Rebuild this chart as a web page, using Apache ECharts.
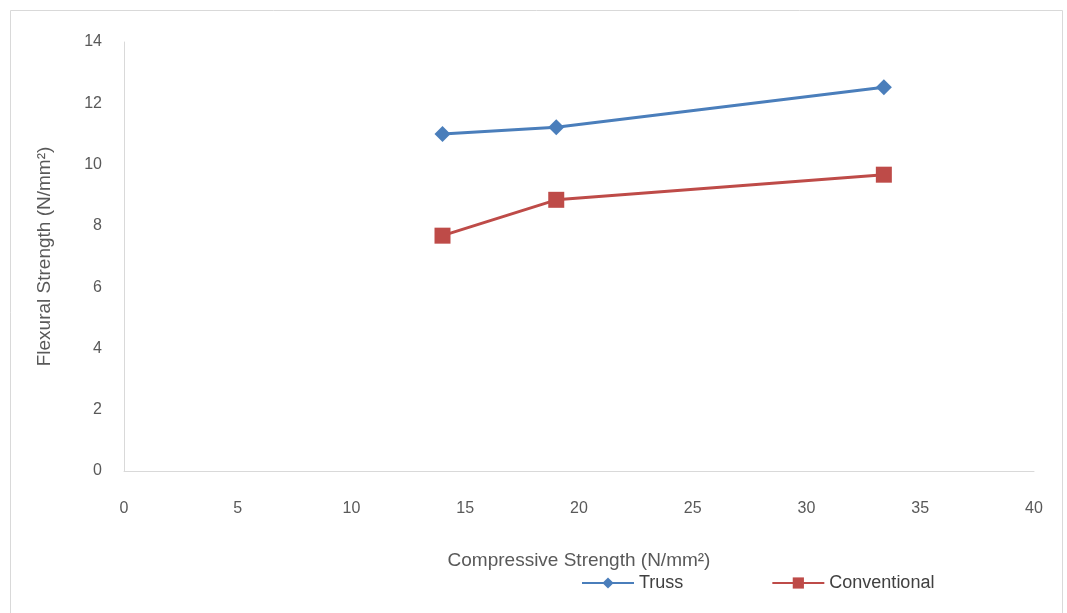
<!DOCTYPE html>
<html><head><meta charset="utf-8">
<script src="https://cdn.jsdelivr.net/npm/echarts@6/dist/echarts.min.js"></script>
<style>html,body{margin:0;padding:0;background:#fff}#c{width:1067px;height:613px}</style>
</head><body><div id="c"></div>
<script>
var seriesNames = ['Truss', 'Conventional'];
var compressive = [14, 19, 33.4];
var trussFlexural = [11.0, 11.22, 12.52];
var conventionalFlexural = [7.68, 8.85, 9.67];
var xTicks = [0, 5, 10, 15, 20, 25, 30, 35, 40];
var yTicks = [0, 2, 4, 6, 8, 10, 12, 14];

function pairs(xs, ys){ return xs.map(function(x,i){ return [x, ys[i]]; }); }
var font = 'Liberation Sans, Arial, sans-serif';
var chart = echarts.init(document.getElementById('c'));
chart.setOption({
  animation: false,
  backgroundColor: '#fff',
  graphic: [{type:'rect', shape:{x:10.5,y:10.5,width:1052,height:610}, style:{fill:'none', stroke:'#d9d9d9', lineWidth:1}}],
  grid: {left:124, right:33, top:42, bottom:142},
  legend: {
    left: 576, top: 569, itemWidth: 52, itemHeight: 14, itemGap: 88,
    textStyle: {color:'#404040', fontSize:18, fontFamily:font},
    data: seriesNames
  },
  xAxis: {
    type:'value', min:xTicks[0], max:xTicks[xTicks.length-1], interval:5,
    name:'Compressive Strength (N/mm²)', nameLocation:'middle', nameGap:80,
    nameTextStyle:{color:'#595959', fontSize:19, fontFamily:font},
    axisLine:{lineStyle:{color:'#d9d9d9'}}, axisTick:{show:false}, splitLine:{show:false},
    axisLabel:{color:'#595959', fontSize:16, fontFamily:font, margin:30}
  },
  yAxis: {
    type:'value', min:yTicks[0], max:yTicks[yTicks.length-1], interval:2,
    name:'Flexural Strength (N/mm²)', nameLocation:'middle', nameGap:70,
    nameTextStyle:{color:'#595959', fontSize:19, fontFamily:font},
    axisLine:{show:true, lineStyle:{color:'#d9d9d9'}}, axisTick:{show:false}, splitLine:{show:false},
    axisLabel:{color:'#595959', fontSize:16, fontFamily:font, margin:22}
  },
  series: [
    {name:seriesNames[0], type:'line', data:pairs(compressive, trussFlexural), symbol:'diamond', symbolSize:16,
     lineStyle:{width:3, color:'#4a7ebb'}, itemStyle:{color:'#4a7ebb'}},
    {name:seriesNames[1], type:'line', data:pairs(compressive, conventionalFlexural), symbol:'rect', symbolSize:16,
     lineStyle:{width:3, color:'#be4b48'}, itemStyle:{color:'#be4b48'}}
  ]
});
</script></body></html>
